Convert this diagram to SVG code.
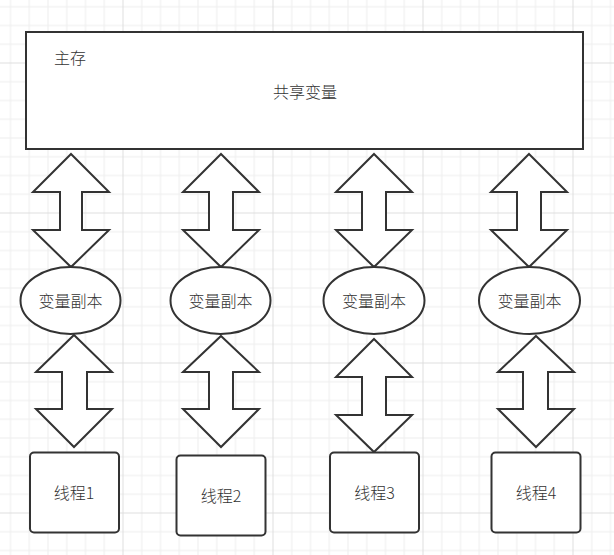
<svg xmlns="http://www.w3.org/2000/svg" width="614" height="555" viewBox="0 0 614 555">
  <defs>
    <pattern id="grid" patternUnits="userSpaceOnUse" x="122.5" y="62.5" width="150" height="150">
      <path d="M19.25 0V150M38 0V150M56.75 0V150M75.5 0V150M94.25 0V150M113 0V150M131.75 0V150M0 19.25H150M0 38H150M0 56.75H150M0 75.5H150M0 94.25H150M0 113H150M0 131.75H150" stroke="#ededed" stroke-width="1" fill="none"/>
      <path d="M0.5 0V150M0 0.5H150" stroke="#dedede" stroke-width="1" fill="none"/>
    </pattern>
    <style>
      .shape { fill: #ffffff; stroke: #333333; stroke-width: 2; }
      .conn { fill: #ffffff; stroke: #333333; stroke-width: 2; stroke-linejoin: miter; }
      text { font-family: "Microsoft YaHei", "Noto Sans CJK SC", "Noto Sans", sans-serif; font-size: 16px; font-weight: 300; fill: #333333; text-anchor: middle; dominant-baseline: central; }
      .left { text-anchor: start; }
    </style>
  </defs>
  <rect width="614" height="555" fill="#ffffff"/>
  <rect width="614" height="555" fill="url(#grid)"/>

  <g id="main-memory">
    <rect class="shape" x="26" y="32" width="557" height="117"/>
    <text class="left" x="54" y="57">主存</text>
    <text x="305" y="91">共享变量</text>
  </g>

  <g id="connectors">
    <path class="conn" d="M71 154L109 192L82 192L82 230L109 230L71 267L33 230L60 230L60 192L33 192Z"/>
    <path class="conn" d="M74 335L112 372L87 372L87 409L112 409L74 447L36 409L62 409L62 372L36 372Z"/>
    <path class="conn" d="M221 154L259 192L233 192L233 230L259 230L221 267L183 230L209 230L209 192L183 192Z"/>
    <path class="conn" d="M221 336L259 372L233 372L233 409L259 409L221 447L183 409L209 409L209 372L183 372Z"/>
    <path class="conn" d="M374 154L412 192L386 192L386 230L412 230L374 267L336 230L362 230L362 192L336 192Z"/>
    <path class="conn" d="M374 339L412 377L386 377L386 415L412 415L374 452L336 415L362 415L362 377L336 377Z"/>
    <path class="conn" d="M529 154L567 192L541 192L541 230L567 230L529 267L491 230L517 230L517 192L491 192Z"/>
    <path class="conn" d="M536 336L574 372L548 372L548 409L574 409L536 447L498 409L523 409L523 372L498 372Z"/>
  </g>

  <g id="copy1">
    <ellipse class="shape" cx="70.5" cy="300.5" rx="50" ry="33.5"/>
    <text x="70.5" y="300">变量副本</text>
  </g>
  <g id="copy2">
    <ellipse class="shape" cx="220.5" cy="300.5" rx="50" ry="33.5"/>
    <text x="220.5" y="300">变量副本</text>
  </g>
  <g id="copy3">
    <ellipse class="shape" cx="374" cy="300.5" rx="50.5" ry="33.5"/>
    <text x="374" y="300">变量副本</text>
  </g>
  <g id="copy4">
    <ellipse class="shape" cx="529.5" cy="300.5" rx="50.5" ry="33.5"/>
    <text x="529.5" y="300">变量副本</text>
  </g>

  <g id="thread1">
    <rect class="shape" x="30" y="452.5" width="89" height="80" rx="4"/>
    <text x="74" y="491.5">线程1</text>
  </g>
  <g id="thread2">
    <rect class="shape" x="176.5" y="455.5" width="89" height="80" rx="4"/>
    <text x="221" y="495">线程2</text>
  </g>
  <g id="thread3">
    <rect class="shape" x="330" y="452.5" width="89" height="80" rx="4"/>
    <text x="374.5" y="491.5">线程3</text>
  </g>
  <g id="thread4">
    <rect class="shape" x="491.5" y="452.5" width="89" height="80" rx="4"/>
    <text x="536" y="491.5">线程4</text>
  </g>
</svg>
